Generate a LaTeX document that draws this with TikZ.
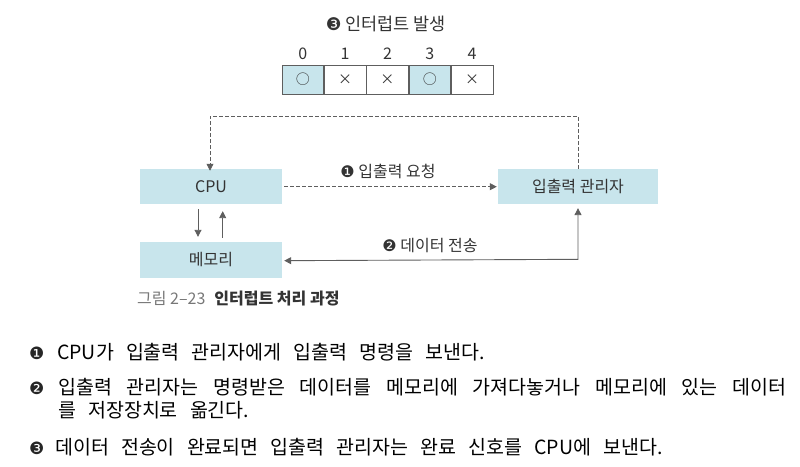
\documentclass[tikz,border=0pt]{standalone}
\usepackage{fontspec}
\setmainfont{Noto Sans CJK KR}
\newfontfamily\dv{DejaVu Sans}
\usetikzlibrary{arrows.meta}
\definecolor{boxblue}{HTML}{C8E5EC}
\definecolor{linegray}{HTML}{5E5E5E}
\definecolor{txt}{HTML}{333333}
\definecolor{capgray}{HTML}{777777}
\begin{document}
\begin{tikzpicture}[x=1pt,y=-1pt,
  box/.style={fill=boxblue, inner sep=0, font=\fontsize{16}{18}\selectfont, text=txt},
  cell/.style={draw=linegray, line width=0.7pt, minimum width=41.6pt, minimum height=29pt, inner sep=0, anchor=west, font=\fontsize{14}{15}\selectfont, text=txt},
  numlbl/.style={font=\fontsize{16}{17}\selectfont, text=txt, inner sep=0},
  lbl/.style={font=\fontsize{16}{18}\selectfont, text=txt, inner sep=0},
  conn/.style={draw=linegray, line width=0.9pt},
  dashconn/.style={draw=linegray, line width=0.8pt, dash pattern=on 3.5pt off 2.5pt},
  tip/.style={-{Triangle[width=7pt,length=7pt]}},
  bodytxt/.style={font=\fontsize{19.5}{23}\selectfont, text=black, inner sep=0, anchor=base west},
  bullet/.style={font=\dv\fontsize{17}{19}\selectfont, text=black!85, inner sep=0, anchor=base west}
]
\useasboundingbox (0,0) rectangle (800,466);

% title and register
\node[lbl, font=\fontsize{17.5}{19}\selectfont] (title) at (386,24) {{\dv ❸} 인터럽트 발생};
\node[cell, fill=boxblue] (c0) at (281.7,79.5) {○};
\node[cell] (c1) at (c0.east) {×};
\node[cell] (c2) at (c1.east) {×};
\node[cell, fill=boxblue] (c3) at (c2.east) {○};
\node[cell] (c4) at (c3.east) {×};
\foreach \i in {0,...,4} {
  \node[numlbl] (n\i) at ([yshift=25.5pt]c\i.center) {\i};
}

% boxes
\node[box, minimum width=142pt, minimum height=35.5pt] (cpu) at (211,186.7) {CPU};
\node[box, minimum width=160pt, minimum height=35.5pt] (io) at (578,186.7) {입출력 관리자};
\node[box, minimum width=142pt, minimum height=36pt] (mem) at (211,260) {메모리};

% connectors
\coordinate (rt) at (578,116);
\coordinate (lt) at (210,116);
\draw[dashconn, tip] (io.north) -- (rt) -- (lt) -- ([xshift=-1pt,yshift=-2pt]cpu.north);
\draw[dashconn, tip, shorten >=1pt, shorten <=2pt] (cpu.east) -- (io.west);
\draw[conn, tip, shorten <=4.5pt, shorten >=5pt] ([xshift=-13pt]cpu.south) -- ([xshift=-13pt]mem.north);
\draw[conn, tip, shorten <=4pt, shorten >=6.5pt] ([xshift=11.7pt]mem.north) -- ([xshift=11.7pt]cpu.south);
\coordinate (corner) at (578,259.3);
\draw[conn, {Triangle[width=7pt,length=7pt]}-{Triangle[width=7pt,length=7pt]}, shorten <=2pt, shorten >=3.5pt] ([yshift=-0.7pt]mem.east) -- (corner) -- (io.south);

\node[lbl] (l1) at (388,171.5) {{\dv ❶} 입출력 요청};
\node[lbl] (l2) at (430,245.5) {{\dv ❷} 데이터 전송};

% caption
\node[inner sep=0, anchor=west, font=\fontsize{16}{18}\selectfont] (cap) at (137,299)
  {\textcolor{capgray}{그림 2–23}\hspace{9pt}\textcolor{txt}{\bfseries 인터럽트 처리 과정}};

% body text
\node[bullet] (b1) at (29,359) {❶};
\node[bodytxt] (t1) at (57,359) {\spaceskip=0.62em CPU가 입출력 관리자에게 입출력 명령을 보낸다.};
\node[bullet] (b2) at (29,394) {❷};
\node[bodytxt] (t2a) at (58,394) {\makebox[728pt][s]{입출력 관리자는 명령받은 데이터를 메모리에 가져다놓거나 메모리에 있는 데이터}};
\node[bodytxt] (t2b) at (58,417) {\spaceskip=0.62em 를 저장장치로 옮긴다.};
\node[bullet] (b3) at (29,454) {❸};
\node[bodytxt] (t3) at (55,454) {\spaceskip=0.62em 데이터 전송이 완료되면 입출력 관리자는 완료 신호를 CPU에 보낸다.};
\end{tikzpicture}
\end{document}
